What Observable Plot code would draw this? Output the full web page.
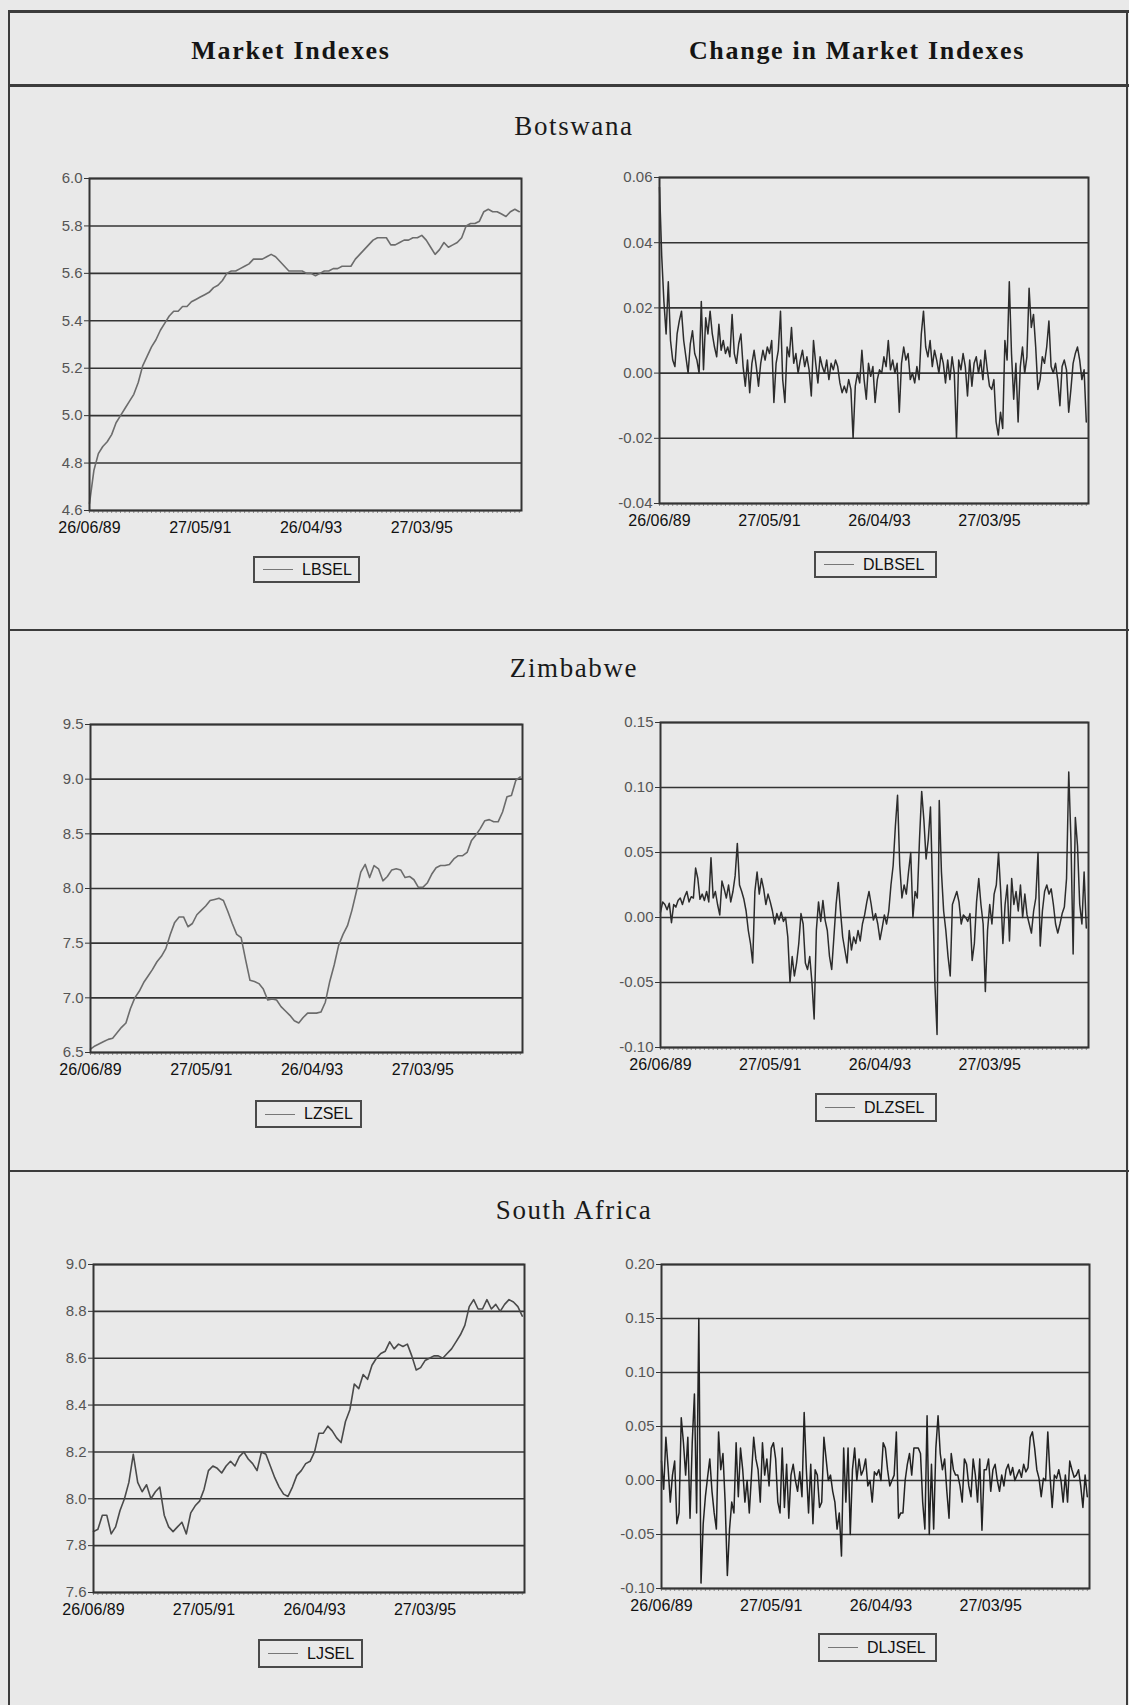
<!DOCTYPE html>
<html>
<head>
<meta charset="utf-8">
<script src="https://cdn.jsdelivr.net/npm/d3@7"></script>
<script src="https://cdn.jsdelivr.net/npm/@observablehq/plot@0.6"></script>
<style>
  body { margin: 0; background: #e9e9e9; }
  #page { position: relative; width: 1129px; height: 1705px; overflow: hidden; background: #e9e9e9;
          font-family: "Liberation Sans", Arial, sans-serif; color: #111; }
  .rule { position: absolute; background: #3c3c3c; }
  .head { position: absolute; transform: translate(-50%, -50%); white-space: nowrap;
          font-family: "Liberation Serif", "Times New Roman", serif; font-weight: bold;
          font-size: 26px; letter-spacing: 1.7px; color: #151515; }
  .country { position: absolute; transform: translate(-50%, -50%); white-space: nowrap;
          font-family: "Liberation Serif", "Times New Roman", serif; font-weight: normal;
          font-size: 27px; letter-spacing: 1.6px; color: #1a1a1a; }
  .panel { position: absolute; }
  .panel svg { overflow: visible; }
  .legend { position: absolute; box-sizing: border-box; border: 2px solid #4a4a4a;
            display: flex; align-items: center; font-size: 16px; color: #111; }
  .legend .sw { display: inline-block; width: 30px; border-top: 1.5px solid #777; margin-left: 8px; }
  .legend .lab { margin-left: 9px; }
</style>
</head>
<body>
<div id="page"></div>
<script>
// ---- tick labels / categories ----
const columnTitles = ["Market Indexes", "Change in Market Indexes"];
const countries = ["Botswana", "Zimbabwe", "South Africa"];
const xTickLabels = ["26/06/89", "27/05/91", "26/04/93", "27/03/95"];   // every 100 weeks
const xTickWeeks = [0, 100, 200, 300];
const nWeeks = 390;

// ---- series (weekly index; levels read every 4 weeks, changes every 2 weeks) ----
const lbsel = [4.63,4.77,4.84,4.87,4.89,4.92,4.97,5.00,5.03,5.06,
  5.09,5.14,5.21,5.25,5.29,5.32,5.36,5.39,5.42,5.44,
  5.44,5.46,5.46,5.48,5.49,5.50,5.51,5.52,5.54,5.55,
  5.57,5.60,5.61,5.61,5.62,5.63,5.64,5.66,5.66,5.66,
  5.67,5.68,5.67,5.65,5.63,5.61,5.61,5.61,5.61,5.60,
  5.60,5.59,5.60,5.61,5.61,5.62,5.62,5.63,5.63,5.63,
  5.66,5.68,5.70,5.72,5.74,5.75,5.75,5.75,5.72,5.72,
  5.73,5.74,5.74,5.75,5.75,5.76,5.74,5.71,5.68,5.70,
  5.73,5.71,5.72,5.73,5.75,5.80,5.81,5.81,5.82,5.86,
  5.87,5.86,5.86,5.85,5.84,5.86,5.87,5.86];

const dlbsel = [0.057,0.036,0.022,0.012,0.028,0.010,0.004,0.002,0.012,0.016,
  0.019,0.010,0.005,0.000,0.009,0.013,0.006,0.004,0.000,0.022,
  0.001,0.017,0.012,0.019,0.012,0.008,0.005,0.015,0.007,0.010,
  0.006,0.008,0.005,0.018,0.006,0.003,0.009,0.012,0.002,-0.004,
  0.004,-0.006,0.003,0.007,0.002,-0.004,0.003,0.007,0.004,0.008,
  0.006,0.010,-0.009,0.003,0.007,0.019,-0.002,-0.009,0.008,0.005,
  0.014,0.003,0.006,0.000,0.004,0.007,0.002,0.005,0.001,-0.007,
  0.010,0.003,-0.003,0.005,0.002,0.000,0.004,-0.002,0.003,0.001,
  0.004,0.002,-0.003,-0.006,-0.004,-0.006,-0.002,-0.005,-0.020,-0.004,
  0.000,-0.003,0.007,-0.002,-0.008,0.003,-0.001,0.002,-0.009,-0.002,
  0.001,0.000,0.005,0.002,0.010,0.001,0.004,0.000,0.003,-0.012,
  0.003,0.008,0.004,0.006,-0.002,0.000,-0.003,0.002,-0.002,0.012,
  0.019,0.008,0.005,0.010,0.002,0.007,0.004,0.000,0.006,0.003,
  -0.003,0.004,-0.002,0.005,0.000,-0.020,0.004,0.001,0.006,0.002,
  -0.007,0.004,-0.004,0.003,0.005,0.000,0.004,-0.002,0.007,0.001,
  -0.004,-0.005,-0.002,-0.015,-0.019,-0.012,-0.017,0.010,0.004,0.028,
  0.006,-0.008,0.003,-0.015,0.002,0.008,0.000,0.005,0.026,0.014,
  0.018,0.008,-0.005,-0.002,0.005,0.003,0.008,0.016,0.002,0.000,
  0.003,-0.002,-0.010,0.002,0.004,0.001,-0.012,-0.005,0.003,0.006,
  0.008,0.004,-0.002,0.001,-0.015];

const lzsel = [6.53,6.56,6.58,6.60,6.62,6.63,6.68,6.73,6.77,6.90,
  7.00,7.06,7.14,7.20,7.26,7.33,7.38,7.45,7.58,7.69,
  7.74,7.74,7.65,7.68,7.76,7.80,7.84,7.89,7.90,7.91,
  7.89,7.79,7.68,7.58,7.55,7.35,7.16,7.15,7.13,7.08,
  6.98,6.99,6.98,6.92,6.88,6.84,6.79,6.77,6.82,6.86,
  6.86,6.86,6.87,6.96,7.15,7.30,7.48,7.58,7.66,7.80,
  7.97,8.15,8.22,8.10,8.21,8.18,8.07,8.11,8.17,8.18,
  8.17,8.10,8.11,8.08,8.01,8.01,8.05,8.13,8.19,8.21,
  8.21,8.22,8.27,8.30,8.30,8.33,8.44,8.49,8.55,8.62,
  8.63,8.61,8.61,8.70,8.84,8.85,8.99,9.02];

const dlzsel = [0.004,0.012,0.010,0.006,0.011,-0.004,0.010,0.008,0.013,0.015,
  0.010,0.016,0.020,0.012,0.016,0.015,0.038,0.030,0.014,0.018,
  0.013,0.020,0.012,0.046,0.015,0.020,0.010,0.002,0.028,0.022,
  0.015,0.025,0.012,0.020,0.032,0.057,0.025,0.020,0.014,0.005,
  -0.010,-0.020,-0.035,0.020,0.035,0.018,0.030,0.022,0.010,0.018,
  0.012,0.005,-0.005,0.003,-0.002,0.004,-0.003,0.000,-0.015,-0.050,
  -0.030,-0.045,-0.035,-0.020,0.003,-0.005,-0.035,-0.040,-0.030,-0.050,
  -0.078,-0.010,0.012,-0.003,0.013,-0.002,-0.010,-0.030,-0.040,-0.015,
  0.010,0.027,0.005,-0.015,-0.025,-0.035,-0.010,-0.025,-0.015,-0.020,
  -0.010,-0.018,-0.005,0.002,0.012,0.020,0.010,-0.002,0.003,-0.005,
  -0.017,-0.008,0.002,-0.005,0.005,0.025,0.040,0.070,0.094,0.040,
  0.015,0.025,0.018,0.035,0.050,0.000,0.020,0.015,0.060,0.097,
  0.075,0.045,0.060,0.085,0.020,-0.050,-0.090,0.090,0.035,0.005,
  -0.010,-0.030,-0.045,0.010,0.015,0.020,0.012,-0.005,0.002,0.000,
  -0.003,0.003,-0.033,-0.020,0.012,0.030,0.010,-0.005,-0.057,-0.010,
  0.010,-0.005,0.018,0.025,0.050,0.020,-0.020,0.010,0.025,-0.018,
  0.030,0.010,0.020,0.005,0.025,0.000,0.018,0.002,-0.005,-0.012,
  0.005,0.015,0.050,-0.022,0.005,0.020,0.025,0.018,0.022,0.010,
  -0.005,-0.012,-0.005,0.003,0.008,0.030,0.112,0.060,-0.028,0.077,
  0.055,0.010,-0.005,0.035,-0.008];

const ljsel = [7.86,7.87,7.93,7.93,7.85,7.88,7.95,8.00,8.07,8.19,
  8.07,8.03,8.06,8.00,8.03,8.05,7.93,7.88,7.86,7.88,
  7.90,7.85,7.94,7.97,7.99,8.04,8.12,8.14,8.13,8.11,
  8.14,8.16,8.14,8.18,8.20,8.17,8.15,8.12,8.20,8.19,
  8.14,8.09,8.05,8.02,8.01,8.05,8.10,8.12,8.15,8.16,
  8.20,8.28,8.28,8.31,8.29,8.26,8.24,8.33,8.38,8.49,
  8.47,8.53,8.51,8.57,8.60,8.62,8.63,8.67,8.64,8.66,
  8.65,8.66,8.61,8.55,8.56,8.59,8.60,8.61,8.61,8.60,
  8.62,8.64,8.67,8.70,8.74,8.82,8.85,8.81,8.81,8.85,
  8.81,8.83,8.80,8.83,8.85,8.84,8.82,8.78];

const dljsel = [0.018,-0.008,0.040,0.012,-0.020,0.005,0.018,-0.040,-0.030,0.058,
  0.035,0.005,0.040,-0.035,0.035,0.080,-0.030,0.150,-0.095,-0.040,
  -0.015,0.003,0.020,-0.010,-0.030,-0.045,0.045,0.010,0.025,-0.020,
  -0.088,-0.045,-0.020,-0.030,0.035,-0.015,0.030,0.010,-0.020,0.000,
  -0.030,0.005,0.040,0.020,0.010,-0.020,0.035,0.005,0.020,-0.005,
  0.030,0.035,0.020,-0.020,-0.030,0.030,-0.025,0.015,-0.035,0.005,
  0.015,0.000,-0.010,0.008,-0.015,0.063,0.010,-0.030,0.015,-0.040,
  0.010,0.005,-0.025,-0.020,0.040,0.020,0.000,0.005,-0.010,-0.020,
  -0.045,-0.030,-0.070,0.030,-0.020,0.030,-0.050,0.010,0.030,0.000,
  0.020,0.005,0.010,0.020,-0.005,0.000,-0.020,0.008,0.005,0.010,
  0.000,0.035,0.030,0.010,-0.005,0.000,0.005,0.045,-0.035,-0.030,
  -0.030,0.000,0.015,0.025,0.005,0.030,0.030,0.030,0.025,-0.020,
  -0.045,0.060,-0.050,0.015,-0.045,0.030,0.060,0.025,0.010,0.020,
  -0.010,-0.035,0.025,0.010,0.005,0.005,-0.005,-0.020,0.020,0.015,
  -0.005,-0.015,0.020,0.005,-0.020,0.020,-0.046,0.010,0.010,0.020,
  -0.010,0.010,0.015,0.000,-0.010,0.005,-0.005,0.010,0.015,0.005,
  0.012,0.000,0.005,0.010,0.003,0.015,0.008,0.012,0.040,0.045,
  0.030,0.010,0.002,-0.015,0.002,0.000,0.045,0.005,-0.025,0.005,
  0.002,0.010,0.000,-0.020,0.005,-0.020,0.018,0.010,0.003,0.005,
  0.010,-0.005,-0.025,0.005,-0.015];

// ---- y tick values ----
const lbselTicks  = [4.6, 4.8, 5.0, 5.2, 5.4, 5.6, 5.8, 6.0];
const dlbselTicks = [-0.04, -0.02, 0.00, 0.02, 0.04, 0.06];
const lzselTicks  = [6.5, 7.0, 7.5, 8.0, 8.5, 9.0, 9.5];
const dlzselTicks = [-0.10, -0.05, 0.00, 0.05, 0.10, 0.15];
const ljselTicks  = [7.6, 7.8, 8.0, 8.2, 8.4, 8.6, 8.8, 9.0];
const dljselTicks = [-0.10, -0.05, 0.00, 0.05, 0.10, 0.15, 0.20];

const page = document.getElementById("page");
function el(cls, css, text) {
  const d = document.createElement("div");
  d.className = cls;
  Object.assign(d.style, css);
  if (text != null) d.textContent = text;
  page.appendChild(d);
  return d;
}

// page frame and dividers
el("rule", {left: "8px", top: "10px", width: "1121px", height: "3px"});
el("rule", {left: "8px", top: "10px", width: "2px", height: "1695px"});
el("rule", {left: "1126px", top: "10px", width: "2px", height: "1695px"});
el("rule", {left: "8px", top: "84px", width: "1121px", height: "3px"});
el("rule", {left: "8px", top: "629px", width: "1121px", height: "2px"});
el("rule", {left: "8px", top: "1170px", width: "1121px", height: "2px"});

el("head", {left: "291px", top: "51px"}, columnTitles[0]);
el("head", {left: "857px", top: "51px"}, columnTitles[1]);
el("country", {left: "574px", top: "126px"}, countries[0]);
el("country", {left: "574px", top: "668px"}, countries[1]);
el("country", {left: "574px", top: "1210px"}, countries[2]);

const minorTicks = d3.range(0, nWeeks + 1, 4);

function panel(p) {
  const mL = 66, mR = 6, mT = 8, mB = 36;
  const W = (p.x1 - p.x0) + mL + mR;
  const H = (p.y1 - p.y0) + mT + mB;
  const data = p.values.map((v, i) => ({w: i * p.step, v}));
  const chart = Plot.plot({
    width: W, height: H,
    marginLeft: mL, marginRight: mR, marginTop: mT, marginBottom: mB,
    style: {background: "transparent", fontFamily: "Liberation Sans, Arial, sans-serif", color: "#111"},
    x: {domain: [0, nWeeks], axis: null},
    y: {domain: [p.ticks[0], p.ticks[p.ticks.length - 1]], axis: null},
    marks: [
      Plot.ruleY(p.ticks, {stroke: "#343434", strokeWidth: 1.6}),
      Plot.axisY({ticks: p.ticks, tickFormat: p.fmt, tickSize: 5, tickPadding: 2, label: null,
                  fontSize: 15, fill: "#555", stroke: "#343434", letterSpacing: "1.8px"}),
      Plot.axisX({ticks: minorTicks, tickFormat: () => "", tickSize: 3, stroke: "#8a8a8a", label: null}),
      Plot.axisX({ticks: xTickWeeks, tickFormat: (w) => xTickLabels[xTickWeeks.indexOf(w)], label: null,
                  tickSize: 0, tickPadding: 11, fontSize: 16, fill: "#111", letterSpacing: "0.5px"}),
      Plot.line(data, {x: "w", y: "v", stroke: p.color, strokeWidth: p.sw}),
      Plot.frame({stroke: "#343434", strokeWidth: 2})
    ]
  });
  const wrap = el("panel", {left: (p.x0 - mL) + "px", top: (p.y0 - mT) + "px"});
  wrap.appendChild(chart);
  const lg = el("legend", {left: p.lg[0] + "px", top: p.lg[1] + "px",
                           width: (p.lg[2] - p.lg[0]) + "px", height: (p.lg[3] - p.lg[1]) + "px"});
  const sw = document.createElement("span"); sw.className = "sw"; lg.appendChild(sw);
  const lab = document.createElement("span"); lab.className = "lab"; lab.textContent = p.name; lg.appendChild(lab);
}

const f1 = (v) => v.toFixed(1);
const f2 = (v) => v.toFixed(2);

panel({name: "LBSEL",  values: lbsel,  step: 4, ticks: lbselTicks,  fmt: f1, color: "#6c6c6c", sw: 1.6,
       x0: 89, x1: 521, y0: 178, y1: 510, lg: [253, 556, 360, 583]});
panel({name: "DLBSEL", values: dlbsel, step: 2, ticks: dlbselTicks, fmt: f2, color: "#2c2c2c", sw: 1.5,
       x0: 659, x1: 1088, y0: 177, y1: 503, lg: [814, 551, 937, 578]});
panel({name: "LZSEL",  values: lzsel,  step: 4, ticks: lzselTicks,  fmt: f1, color: "#6c6c6c", sw: 1.6,
       x0: 90, x1: 522, y0: 724, y1: 1052, lg: [255, 1100, 362, 1128]});
panel({name: "DLZSEL", values: dlzsel, step: 2, ticks: dlzselTicks, fmt: f2, color: "#2c2c2c", sw: 1.5,
       x0: 660, x1: 1088, y0: 722, y1: 1047, lg: [815, 1093, 937, 1122]});
panel({name: "LJSEL",  values: ljsel,  step: 4, ticks: ljselTicks,  fmt: f1, color: "#4a4a4a", sw: 1.6,
       x0: 93, x1: 524, y0: 1264, y1: 1592, lg: [258, 1639, 363, 1668]});
panel({name: "DLJSEL", values: dljsel, step: 2, ticks: dljselTicks, fmt: f2, color: "#222222", sw: 1.5,
       x0: 661, x1: 1089, y0: 1264, y1: 1588, lg: [818, 1633, 937, 1662]});
</script>
</body>
</html>
